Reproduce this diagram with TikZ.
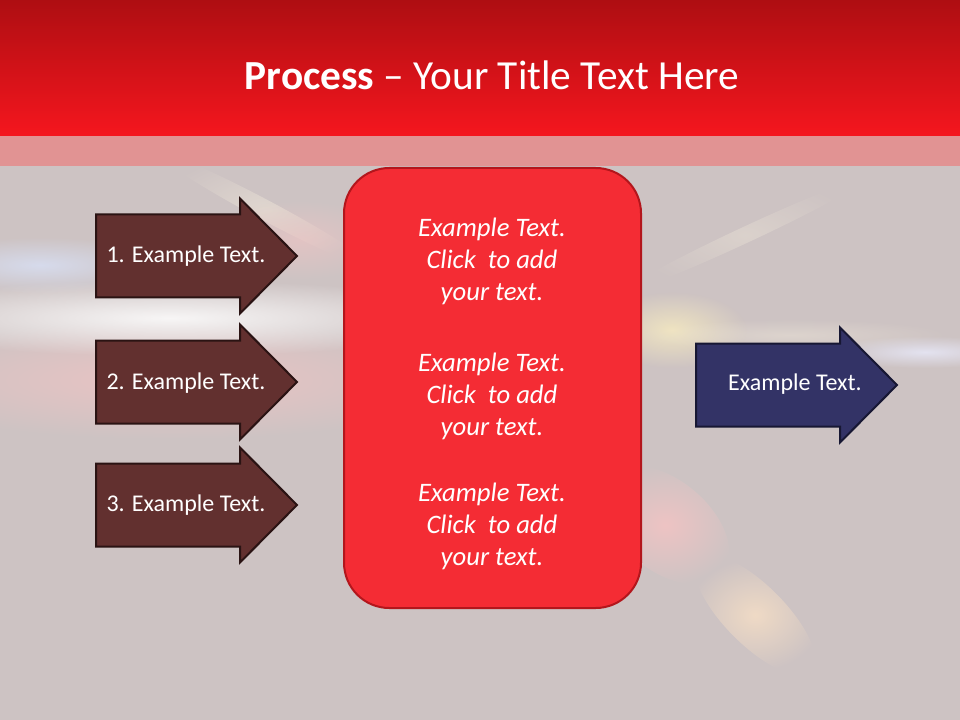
\documentclass[tikz,border=0pt]{standalone}
\usepackage{fontspec}
\setmainfont{Carlito}
\usetikzlibrary{fadings}
\definecolor{bg}{HTML}{CDC3C3}
\definecolor{titletop}{HTML}{AE0E12}
\definecolor{titlebot}{HTML}{F5161E}
\definecolor{band}{HTML}{E38F8F}
\definecolor{lfill}{HTML}{62302F}
\definecolor{ldark}{HTML}{2A1313}
\definecolor{rfill}{HTML}{333366}
\definecolor{rdark}{HTML}{171733}
\definecolor{boxfill}{HTML}{F42C34}
\definecolor{boxline}{HTML}{B3161C}
\definecolor{gblue}{HTML}{D8DFF3}
\definecolor{gpink}{HTML}{F7C4C4}
\definecolor{gyellow}{HTML}{F8ECC0}
\definecolor{gpink2}{HTML}{FCC4C4}
\definecolor{gorange}{HTML}{F8E0C6}
\definecolor{glilac}{HTML}{E6E6F5}
\definecolor{gcream}{HTML}{F0E8DA}
\tikzfading[name=fuzzy, inner color=transparent!0, outer color=transparent!100]
\tikzset{
  arrowpic/.pic={\path[pic actions] (0,-41.5) -- (144,-41.5) -- (144,-57.5) -- (201,0)
      -- (144,57.5) -- (144,41.5) -- (0,41.5) -- cycle;},
  leftarrow/.style={draw=ldark, fill=lfill, line width=1.5pt},
  rightarrow/.style={draw=rdark, fill=rfill, line width=1.5pt},
  arrowtext/.style={text=white, font=\fontsize{18}{22}\selectfont},
  boxtext/.style={text=white, align=center, font=\fontsize{20}{24}\selectfont\itshape},
  glow/.style={path fading=fuzzy}
}
\begin{document}
\begin{tikzpicture}[x=0.75pt,y=-0.75pt]
\useasboundingbox (0,0) rectangle (960,720);
\fill[bg] (0,0) rectangle (960,720);
% background light streaks
\fill[gpink, opacity=0.7, glow] (170,380) ellipse [x radius=310, y radius=60];
\fill[white, opacity=0.85, glow] (170,318) ellipse [x radius=320, y radius=38];
\fill[gblue, opacity=0.85, glow] (40,265) ellipse [x radius=130, y radius=28];
\fill[gcream, opacity=0.55, glow, rotate around={-28:(265,210)}] (265,210) ellipse [x radius=120, y radius=10];
\fill[gpink, opacity=0.5, glow] (300,240) ellipse [x radius=90, y radius=40];
\fill[gyellow, opacity=0.8, glow] (672,330) ellipse [x radius=75, y radius=38];
\fill[gcream, opacity=0.45, glow] (790,335) ellipse [x radius=160, y radius=16];
\fill[glilac, opacity=0.9, glow] (925,352) ellipse [x radius=100, y radius=16];
\fill[gcream, opacity=0.4, glow, rotate around={25:(745,235)}] (745,235) ellipse [x radius=130, y radius=8];
\fill[gpink2, opacity=0.7, glow, rotate around={-40:(665,525)}] (665,525) ellipse [x radius=75, y radius=45];
\fill[gorange, opacity=0.8, glow, rotate around={-45:(755,615)}] (755,615) ellipse [x radius=80, y radius=30];
% title bar
\shade[top color=titletop, bottom color=titlebot] (0,0) rectangle (960,136);
\fill[band, opacity=0.92] (0,136) rectangle (960,166);
\node[text=white, font=\fontsize{31}{37}\selectfont] (title) at (492,75) {\textbf{Process} – Your Title Text Here};
% left arrows
\pic[leftarrow] (a1) at (96,256) {arrowpic};
\pic[leftarrow] (a2) at (96,382) {arrowpic};
\pic[leftarrow] (a3) at (96,505) {arrowpic};
\node[arrowtext] (t1) at (186,256) {1. Example Text.};
\node[arrowtext] (t2) at (186,383) {2. Example Text.};
\node[arrowtext] (t3) at (186,505) {3. Example Text.};
% central box
\node[draw=boxline, fill=boxfill, line width=1.5pt, rounded corners=34pt,
  minimum width=222.75pt, minimum height=330pt, inner sep=0pt] (box) at (492.5,388) {};
\node[boxtext] (b1) at (492,261) {Example Text.\\Click~ to add\\your text.};
\node[boxtext] (b2) at (492,396) {Example Text.\\Click~ to add\\your text.};
\node[boxtext] (b3) at (492,526) {Example Text.\\Click~ to add\\your text.};
% right arrow
\pic[rightarrow] (a4) at (696,385) {arrowpic};
\node[arrowtext] (t4) at (795,384) {Example Text.};
\end{tikzpicture}
\end{document}
